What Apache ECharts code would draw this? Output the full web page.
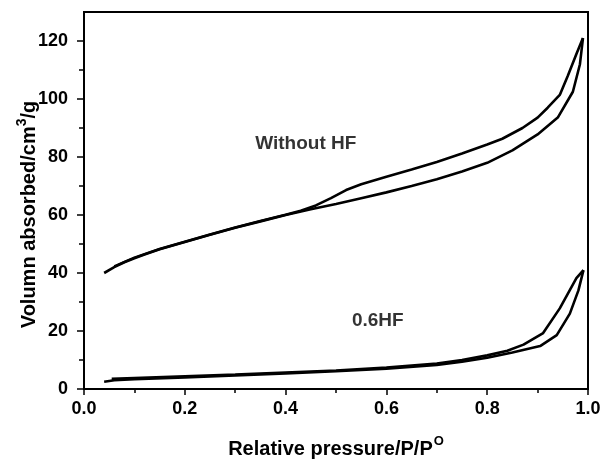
<!DOCTYPE html>
<html>
<head>
<meta charset="utf-8">
<script src="https://cdn.jsdelivr.net/npm/echarts@6/dist/echarts.min.js"></script>
<style>html,body{margin:0;padding:0;background:#fff}#c{width:602px;height:463px}</style>
</head>
<body>
<div id="c"></div>
<script>
// Without HF — adsorption branch [P/P0, volume]
const noHFAdsorption = [[0.04,40],[0.06,42],[0.08,43.7],[0.10,45.1],[0.12,46.4],[0.15,48.2],[0.20,50.7],[0.25,53.2],[0.30,55.6],[0.35,57.8],[0.40,60.0],[0.45,62.0],[0.50,63.8],[0.55,65.8],[0.60,67.8],[0.65,70.0],[0.70,72.3],[0.75,75.0],[0.80,78.0],[0.85,82.3],[0.90,87.8],[0.94,93.6],[0.97,102.5],[0.984,112],[0.99,121]];
// Without HF — desorption branch
const noHFDesorption = [[0.99,121],[0.977,115.5],[0.96,108],[0.944,101.4],[0.92,97],[0.90,93.6],[0.87,90],[0.83,86.3],[0.80,84.3],[0.75,81.2],[0.70,78.3],[0.65,75.7],[0.60,73.2],[0.55,70.6],[0.52,68.6],[0.49,65.8],[0.46,63.3],[0.43,61.5],[0.40,60.1],[0.35,57.9],[0.30,55.7],[0.25,53.3],[0.20,50.8],[0.15,48.3],[0.10,45.3],[0.06,42.3]];
// 0.6HF — adsorption branch
const hf06Adsorption = [[0.04,2.5],[0.06,3.0],[0.10,3.4],[0.20,4.0],[0.30,4.7],[0.40,5.4],[0.50,6.1],[0.60,7.0],[0.70,8.3],[0.75,9.4],[0.80,10.8],[0.85,12.6],[0.905,14.8],[0.938,18.6],[0.964,26],[0.981,34],[0.991,41]];
// 0.6HF — desorption branch
const hf06Desorption = [[0.991,41],[0.977,38.2],[0.944,27.8],[0.911,19.3],[0.872,15.3],[0.84,13.2],[0.80,11.6],[0.75,10.0],[0.70,8.8],[0.60,7.4],[0.50,6.4],[0.40,5.7],[0.30,5.0],[0.20,4.4],[0.10,3.8],[0.055,3.5]];
// Annotation labels [x, y, text]
const annotations = [[0.44,84.5,'Without HF'],[0.583,23.5,'0.6HF']];
// Axis ticks
const yMajorTicks = [0,20,40,60,80,100,120];
const yMinorTicks = [10,30,50,70,90,110];

const FONT = '"Liberation Sans", Arial, sans-serif';
const chart = echarts.init(document.getElementById('c'), null, {renderer:'canvas'});

const lineSeries = (data) => ({
  type:'line', data, showSymbol:false, symbol:'none', smooth:false,
  lineStyle:{color:'#000', width:2.6}, silent:true, animation:false, z:3
});

chart.setOption({
  animation:false,
  backgroundColor:'#fff',
  grid:{left:84, right:14, top:12, bottom:74, show:true, borderColor:'#000', borderWidth:2,
    backgroundColor:'transparent', containLabel:false, outerBoundsMode:'none'},
  xAxis:{
    type:'value', min:0, max:1, interval:0.2,
    axisLine:{lineStyle:{color:'#000', width:2}},
    axisTick:{length:6, lineStyle:{color:'#000', width:1.5}},
    minorTick:{show:true, splitNumber:2, length:4, lineStyle:{color:'#000', width:1.5}},
    splitLine:{show:false},
    axisLabel:{color:'#000', fontFamily:FONT, fontWeight:'bold', fontSize:18, margin:11, formatter:v=>v.toFixed(1)},
    name:'{t|Relative pressure/P/P}{s|O}', nameLocation:'middle', nameGap:46, nameMoveOverlap:false,
    nameTextStyle:{rich:{
      t:{fontFamily:FONT, fontWeight:'bold', fontSize:20, color:'#000', lineHeight:24, verticalAlign:'bottom'},
      s:{fontFamily:FONT, fontWeight:'bold', fontSize:13, color:'#000', lineHeight:24, verticalAlign:'top', padding:[0,0,10,1]}
    }}
  },
  yAxis:[{
    type:'value', min:0, max:130,
    axisLine:{lineStyle:{color:'#000', width:2}},
    axisTick:{length:7, customValues:yMajorTicks, lineStyle:{color:'#000', width:1.5}},
    splitLine:{show:false},
    axisLabel:{color:'#000', fontFamily:FONT, fontWeight:'bold', fontSize:18, margin:16, customValues:yMajorTicks},
    name:'{t|Volumn absorbed/cm}{s|3}{t|/g}', nameLocation:'middle', nameGap:45, nameMoveOverlap:false,
    nameTextStyle:{padding:[0,28,0,0], rich:{
      t:{fontFamily:FONT, fontWeight:'bold', fontSize:20, color:'#000', lineHeight:24, verticalAlign:'bottom'},
      s:{fontFamily:FONT, fontWeight:'bold', fontSize:14, color:'#000', lineHeight:24, verticalAlign:'top', padding:[0,0,10,0]}
    }}
  },{
    type:'value', min:0, max:130, position:'left',
    axisLine:{show:false},
    axisTick:{length:5, customValues:yMinorTicks, lineStyle:{color:'#000', width:1.5}},
    splitLine:{show:false},
    axisLabel:{show:false}
  }],
  series:[
    lineSeries(noHFAdsorption),
    lineSeries(noHFDesorption),
    lineSeries(hf06Adsorption),
    lineSeries(hf06Desorption),
    {
      type:'scatter', symbolSize:0, silent:true, animation:false,
      data: annotations.map(a=>({value:[a[0],a[1]], name:a[2]})),
      label:{show:true, position:'inside', formatter:p=>p.name, color:'#000',
        fontFamily:FONT, fontWeight:'bold', fontSize:19}
    }
  ]
});
</script>
</body>
</html>
